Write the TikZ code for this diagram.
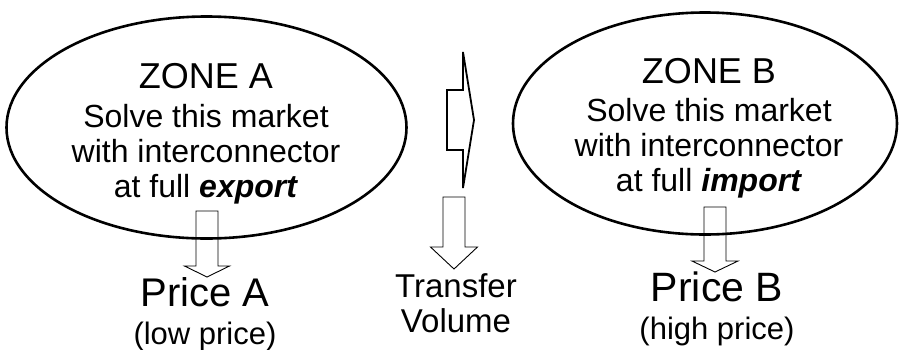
\documentclass[tikz,border=0pt]{standalone}
\usepackage{fontspec}
\setmainfont{Liberation Sans}
\usetikzlibrary{shapes.geometric}

\begin{document}
\begin{tikzpicture}[x=1pt, y=-1pt,
		zone/.style={draw, ellipse, line width=2.6pt, inner sep=0pt},
		zonetext/.style={anchor=north, align=center, inner sep=0pt, font=\fontsize{32}{35}\selectfont},
		pricetext/.style={anchor=north, align=center, inner sep=0pt, font=\fontsize{31}{35}\selectfont},
		blockarrow/.style={draw, line width=0.9pt, line join=miter}]
			\useasboundingbox (0,0) rectangle (900,349);
			
			% the two market zones
			\node[zone, minimum width=400pt, minimum height=222pt] (zoneA) at (206.5,127.5) {};
			\node[zone, minimum width=384pt, minimum height=222pt] (zoneB) at (705,123.5) {};
			
			\node[zonetext] (zoneAtext) at (206,63) {{\fontsize{36}{35}\selectfont ZONE A}\\[4pt]Solve this market\\with interconnector\\at full \textbf{\textit{export}}};
			\node[zonetext] (zoneBtext) at (709,58.5) {{\fontsize{36}{35}\selectfont ZONE B}\\[3pt]Solve this market\\with interconnector\\at full \textbf{\textit{import}}};
			
			% results
			\node[pricetext] (priceA) at (205,277) {{\fontsize{40}{35}\selectfont Price A}\\[3pt](low price)};
			\node[pricetext] (priceB) at (717,272) {{\fontsize{41}{35}\selectfont Price B}\\[3pt](high price)};
			\node[pricetext, font=\fontsize{33}{35}\selectfont] (transfer) at (456,273) {Transfer\\Volume};
			
			% block arrows
			\draw[blockarrow, line width=1.8pt] (447,90) -- (463,90) -- (463,52) -- (474,120) -- (463,188) -- (463,150) -- (447,150) -- cycle;
			\begin{scope}[blockarrow]
				\draw (196,211) -- ++(0,55) -- ++(-11.5,0) -- (207,277) -- (229.5,266) -- ++(-11.5,0) -- ++(0,-55) -- cycle;
				\draw (443,197) -- ++(0,50) -- ++(-12.5,0) -- (454,269) -- (477.5,247) -- ++(-12.5,0) -- ++(0,-50) -- cycle;
				\draw (704,207) -- ++(0,54) -- ++(-12,0) -- (715,272) -- (738,261) -- ++(-12,0) -- ++(0,-54) -- cycle;
			\end{scope}
		\end{tikzpicture}
\end{document}
